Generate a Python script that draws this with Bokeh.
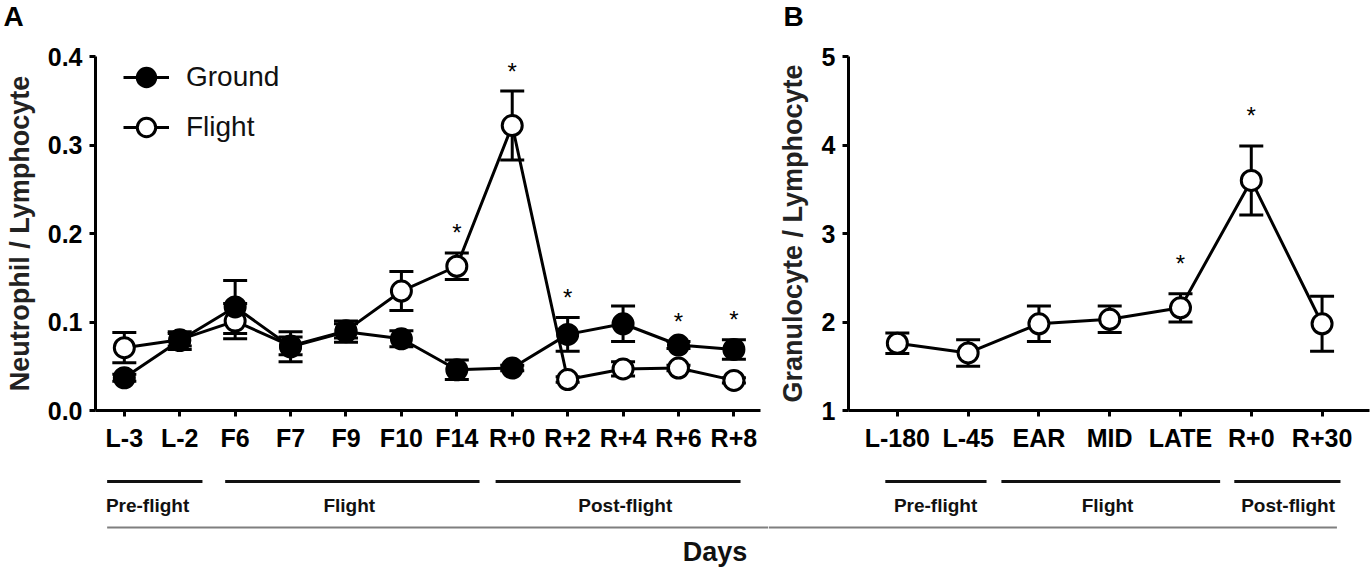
from bokeh.plotting import figure
from bokeh.models import (ColumnDataSource, Range1d, FixedTicker, NumeralTickFormatter,
                          Whisker, TeeHead, Legend, LegendItem)
from bokeh.layouts import row, column
from bokeh.core.properties import value
from bokeh.embed import file_html
from bokeh.resources import INLINE

# ---------------- data ----------------
days_a = ["L-3", "L-2", "F6", "F7", "F9", "F10", "F14", "R+0", "R+2", "R+4", "R+6", "R+8"]
ground_mean = [0.037, 0.079, 0.117, 0.072, 0.089, 0.081, 0.046, 0.048, 0.086, 0.098, 0.074, 0.069]
ground_sem = [0.004, 0.010, 0.030, 0.017, 0.012, 0.009, 0.011, 0.003, 0.019, 0.020, 0.004, 0.011]
flight_mean = [0.071, 0.080, 0.101, 0.073, 0.090, 0.135, 0.163, 0.322, 0.035, 0.047, 0.048, 0.034]
flight_sem = [0.017, 0.007, 0.020, 0.010, 0.008, 0.022, 0.015, 0.039, 0.003, 0.008, 0.003, 0.003]
sig_a = ["F14", "R+0", "R+2", "R+6", "R+8"]

days_b = ["L-180", "L-45", "EAR", "MID", "LATE", "R+0", "R+30"]
granulo_mean = [1.76, 1.65, 1.98, 2.03, 2.16, 3.60, 1.98]
granulo_sem = [0.115, 0.15, 0.20, 0.15, 0.16, 0.39, 0.31]
sig_b = ["LATE", "R+0"]

phases = ["Pre-flight", "Flight", "Post-flight"]
panel_tags = ["A", "B"]

# ---------------- layout constants ----------------
FONT = "Liberation Sans"
BLACK = "#000000"
PAGE_W = 1372
HEAD_H = 32          # strip holding the panel letters
FRAME_H = 354
BORDER_TOP = 24
BORDER_BOTTOM = 50
BAND_H = 111         # strip holding the phase brackets

A_LEFT, A_FRAME, A_RIGHT = 95, 665, 8
B_LEFT, B_FRAME, B_RIGHT = 80, 521, 3
A_XR = (-0.52, 11.48)
B_XR = (-0.69, 6.67)

# phase bracket extents (in category units) and label centres
span_a = [(-0.31, 1.41), (1.82, 6.41), (6.70, 11.12)]
lab_a = [0.42, 4.06, 9.04]
span_b = [(-0.17, 1.26), (1.47, 4.56), (4.76, 6.26)]
lab_b = [0.54, 2.97, 5.52]
GRAY_A_START = -0.31
GRAY_B_END = 6.21
DAYS_X = 10.66
TAG_X = [3, 783]


def style_axes(p, xlabels):
    p.xaxis.ticker = FixedTicker(ticks=list(range(len(xlabels))))
    p.xaxis.major_label_overrides = {i: s for i, s in enumerate(xlabels)}
    for ax in (p.xaxis, p.yaxis):
        ax.axis_line_width = 3
        ax.axis_line_color = BLACK
        ax.major_tick_line_width = 3
        ax.major_tick_line_color = BLACK
        ax.major_tick_out = 6
        ax.major_tick_in = 0
        ax.minor_tick_line_color = None
        ax.major_label_text_font = FONT
        ax.major_label_text_font_style = "bold"
        ax.major_label_text_font_size = "25px"
        ax.major_label_text_color = BLACK
        ax.major_label_standoff = 7
        ax.axis_label_text_font = FONT
        ax.axis_label_text_font_style = "bold"
        ax.axis_label_text_font_size = "27px"
        ax.axis_label_text_color = "#222222"
    p.grid.visible = False
    p.outline_line_color = None


def make_fig(frame_w, left, right, xr, yr):
    return figure(frame_width=frame_w, frame_height=FRAME_H,
                  min_border_left=left, min_border_right=right,
                  min_border_top=BORDER_TOP, min_border_bottom=BORDER_BOTTOM,
                  x_range=Range1d(*xr), y_range=Range1d(*yr),
                  output_backend="svg", toolbar_location=None)


def add_series(p, x, mean, sem, fill):
    src = ColumnDataSource(dict(x=x, y=mean,
                                upper=[m + s for m, s in zip(mean, sem)],
                                lower=[m - s for m, s in zip(mean, sem)]))
    w = Whisker(base="x", upper="upper", lower="lower", source=src,
                line_width=3, line_color=BLACK, level="underlay",
                upper_head=TeeHead(size=24, line_width=3, line_color=BLACK),
                lower_head=TeeHead(size=24, line_width=3, line_color=BLACK))
    p.add_layout(w)
    ln = p.line("x", "y", source=src, line_width=3, line_color=BLACK)
    sc = p.scatter("x", "y", source=src, marker="circle", size=20,
                   line_width=3, line_color=BLACK, fill_color=fill)
    return ln, sc


def add_stars(p, xs, ys, off):
    src = ColumnDataSource(dict(x=xs, y=ys, t=["*"] * len(xs)))
    p.text("x", "y", text="t", source=src, text_font=value(FONT),
           text_font_size="24px", text_align="center", text_baseline="middle",
           text_color=BLACK, y_offset=off)


def plain(width, height, xr, yr):
    p = figure(width=width, height=height, x_range=Range1d(*xr), y_range=Range1d(*yr),
               x_axis_location=None, y_axis_location=None,
               min_border=0, output_backend="svg", toolbar_location=None)
    p.grid.visible = False
    p.outline_line_color = None
    return p


# ---------------- header with panel letters ----------------
head = plain(PAGE_W, HEAD_H, (0, PAGE_W), (HEAD_H, 0))
head.text(x=TAG_X, y=[16, 16], text=panel_tags, text_font=value(FONT),
          text_font_style="bold", text_font_size="28px", text_align="left",
          text_baseline="middle", text_color=BLACK)

# ---------------- panel A ----------------
pa = make_fig(A_FRAME, A_LEFT, A_RIGHT, A_XR, (0, 0.4))
style_axes(pa, days_a)
pa.yaxis.ticker = FixedTicker(ticks=[0, 0.1, 0.2, 0.3, 0.4])
pa.yaxis.formatter = NumeralTickFormatter(format="0.0")
pa.yaxis.axis_label = "Neutrophil / Lymphocyte"
pa.yaxis.axis_label_standoff = 10
xa = list(range(len(days_a)))
fl, fs = add_series(pa, xa, flight_mean, flight_sem, "white")
gl, gs = add_series(pa, xa, ground_mean, ground_sem, BLACK)
sx, sy = [], []
for d in sig_a:
    i = days_a.index(d)
    sx.append(i)
    sy.append(max(ground_mean[i] + ground_sem[i], flight_mean[i] + flight_sem[i]))
add_stars(pa, sx, sy, -20)
leg = Legend(items=[LegendItem(label="Ground", renderers=[gl, gs]),
                    LegendItem(label="Flight", renderers=[fl, fs])],
             location=(28, 260), orientation="vertical",
             glyph_width=46, glyph_height=46, label_height=46, spacing=4,
             label_standoff=17, padding=0, margin=0,
             label_text_font=FONT, label_text_font_size="28px",
             label_text_color="#111111",
             background_fill_alpha=0, border_line_color=None)
pa.add_layout(leg)

# ---------------- panel B ----------------
pb = make_fig(B_FRAME, B_LEFT, B_RIGHT, B_XR, (1, 5))
style_axes(pb, days_b)
pb.yaxis.ticker = FixedTicker(ticks=[1, 2, 3, 4, 5])
pb.yaxis.formatter = NumeralTickFormatter(format="0")
pb.yaxis.axis_label = "Granulocyte / Lymphocyte"
pb.yaxis.axis_label_standoff = 11
xb = list(range(len(days_b)))
add_series(pb, xb, granulo_mean, granulo_sem, "white")
bx, by = [], []
for d in sig_b:
    i = days_b.index(d)
    bx.append(i)
    by.append(granulo_mean[i] + granulo_sem[i])
add_stars(pb, bx, by, -30)


# ---------------- phase band ----------------
def band(xr, frame_w, left, right, spans, labs, gray):
    scale = (xr[1] - xr[0]) / frame_w
    lo, hi = xr[0] - left * scale, xr[1] + right * scale
    p = plain(left + frame_w + right, BAND_H, (lo, hi), (BAND_H, 0))
    p.segment(x0=[s[0] for s in spans], x1=[s[1] for s in spans],
              y0=[21] * len(spans), y1=[21] * len(spans),
              line_width=3, line_color="#111111")
    p.text(x=labs, y=[45] * len(labs), text=phases, text_font=value(FONT),
           text_font_style="bold", text_font_size="19px", text_align="center",
           text_baseline="middle", text_color="#111111")
    g0 = lo if gray[0] is None else gray[0]
    g1 = hi if gray[1] is None else gray[1]
    p.segment(x0=[g0], x1=[g1], y0=[67], y1=[67], line_width=2, line_color="#7f7f7f")
    return p


ba = band(A_XR, A_FRAME, A_LEFT, A_RIGHT, span_a, lab_a, (GRAY_A_START, None))
ba.text(x=[DAYS_X], y=[91], text=["Days"], text_font=value(FONT), text_font_style="bold",
        text_font_size="27px", text_align="center", text_baseline="middle",
        text_color="#111111")
bb = band(B_XR, B_FRAME, B_LEFT, B_RIGHT, span_b, lab_b, (None, GRAY_B_END))

layout = column(head, row(pa, pb), row(ba, bb))
open("out.html", "w").write(file_html(layout, INLINE))
